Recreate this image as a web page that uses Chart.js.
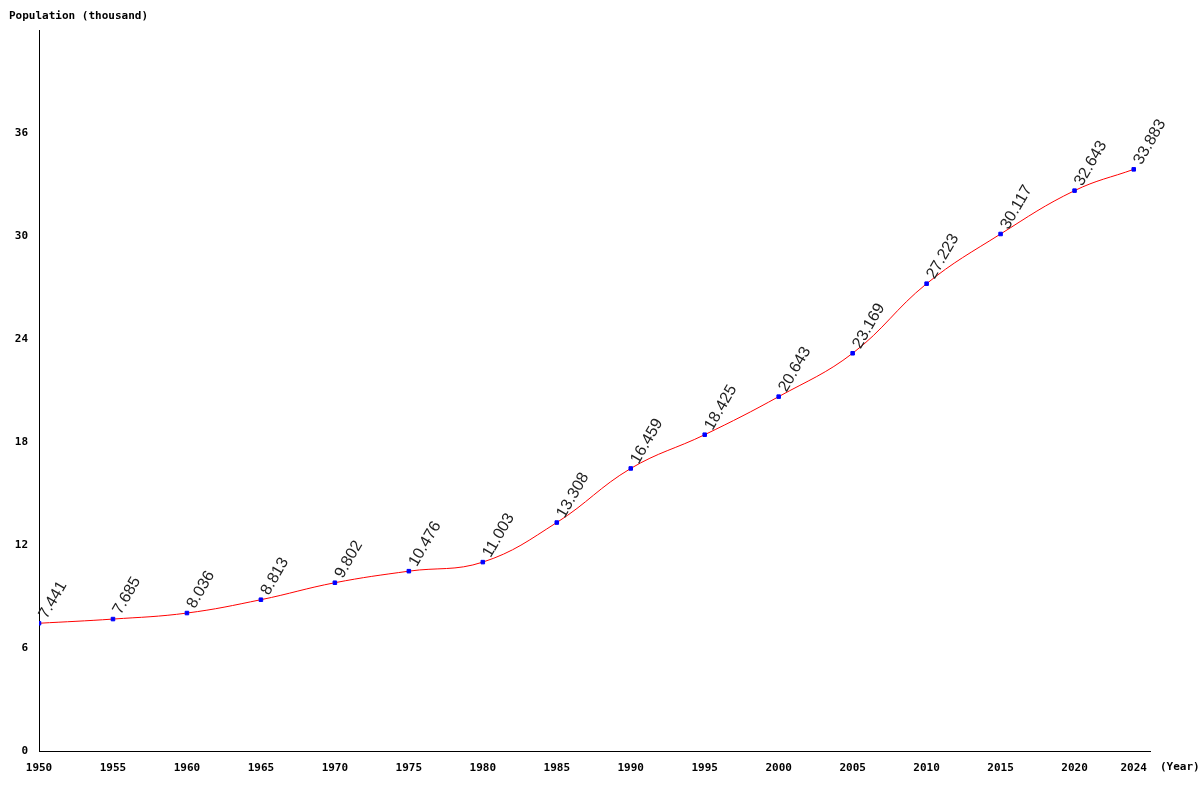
<!DOCTYPE html>
<html>
<head>
<meta charset="utf-8">
<script src="https://cdn.jsdelivr.net/npm/chart.js@4/dist/chart.umd.min.js"></script>
<style>
  body { margin: 0; background: #fff; }
  #wrap { width: 1200px; height: 800px; }
</style>
</head>
<body>
<div id="wrap"><canvas id="chart"></canvas></div>
<script>
// Population data (thousand)
const years = [1950, 1955, 1960, 1965, 1970, 1975, 1980, 1985, 1990, 1995, 2000, 2005, 2010, 2015, 2020, 2024]
const population = [7.441, 7.685, 8.036, 8.813, 9.802, 10.476, 11.003, 13.308, 16.459, 18.425, 20.643, 23.169, 27.223, 30.117, 32.643, 33.883]
const yTicks = [0, 6, 12, 18, 24, 30, 36]

const tickFont = { family: "DejaVu Sans Mono", size: 11, weight: "bold" }

// Draw rotated value labels and axis titles
const labelsPlugin = {
  id: "labels",
  afterDatasetsDraw(chart) {
    const ctx = chart.ctx
    const meta = chart.getDatasetMeta(0)
    ctx.save()
    ctx.font = "16px 'Liberation Sans', Arial"
    ctx.fillStyle = "#222"
    meta.data.forEach((pt, i) => {
      ctx.save()
      ctx.translate(pt.x + 4, pt.y - 6)
      ctx.rotate(-Math.PI / 3)
      ctx.textAlign = "left"
      ctx.textBaseline = "middle"
      ctx.fillText(population[i].toFixed(3), 0, 0)
      ctx.restore()
    })
    ctx.font = "bold 11px 'DejaVu Sans Mono'"
    ctx.fillStyle = "#000"
    ctx.textAlign = "left"
    ctx.textBaseline = "middle"
    ctx.fillText("Population (thousand)", 9, 16)
    ctx.fillText("(Year)", 1160, 767)
    ctx.restore()
  },
}

new Chart(document.getElementById("chart"), {
  type: "line",
  data: {
    datasets: [
      {
        data: years.map((y, i) => ({ x: y, y: population[i] })),
        borderColor: "red",
        borderWidth: 1,
        tension: 0.4,
        pointStyle: "rect",
        pointRadius: 2.5,
        pointBackgroundColor: "blue",
        pointBorderColor: "blue",
      },
    ],
  },
  options: {
    responsive: true,
    maintainAspectRatio: false,
    animation: false,
    layout: { padding: { left: 0, right: 50, top: 30, bottom: 0 } },
    plugins: { legend: { display: false }, tooltip: { enabled: false } },
    scales: {
      x: {
        type: "linear",
        min: 1950,
        max: 2025.1,
        afterBuildTicks: (axis) => { axis.ticks = years.map((v) => ({ value: v })) },
        afterFit: (axis) => { axis.height = 49 },
        grid: { display: false, drawTicks: true },
        border: { color: "#000" },
        ticks: { color: "#000", font: tickFont, maxRotation: 0, autoSkip: false, callback: (v) => String(v) },
      },
      y: {
        min: 0,
        max: 42,
        afterBuildTicks: (axis) => { axis.ticks = yTicks.map((v) => ({ value: v })) },
        afterFit: (axis) => { axis.width = 39 },
        grid: { display: false },
        border: { color: "#000" },
        ticks: { color: "#000", font: tickFont },
      },
    },
  },
  plugins: [labelsPlugin],
})
</script>
</body>
</html>
